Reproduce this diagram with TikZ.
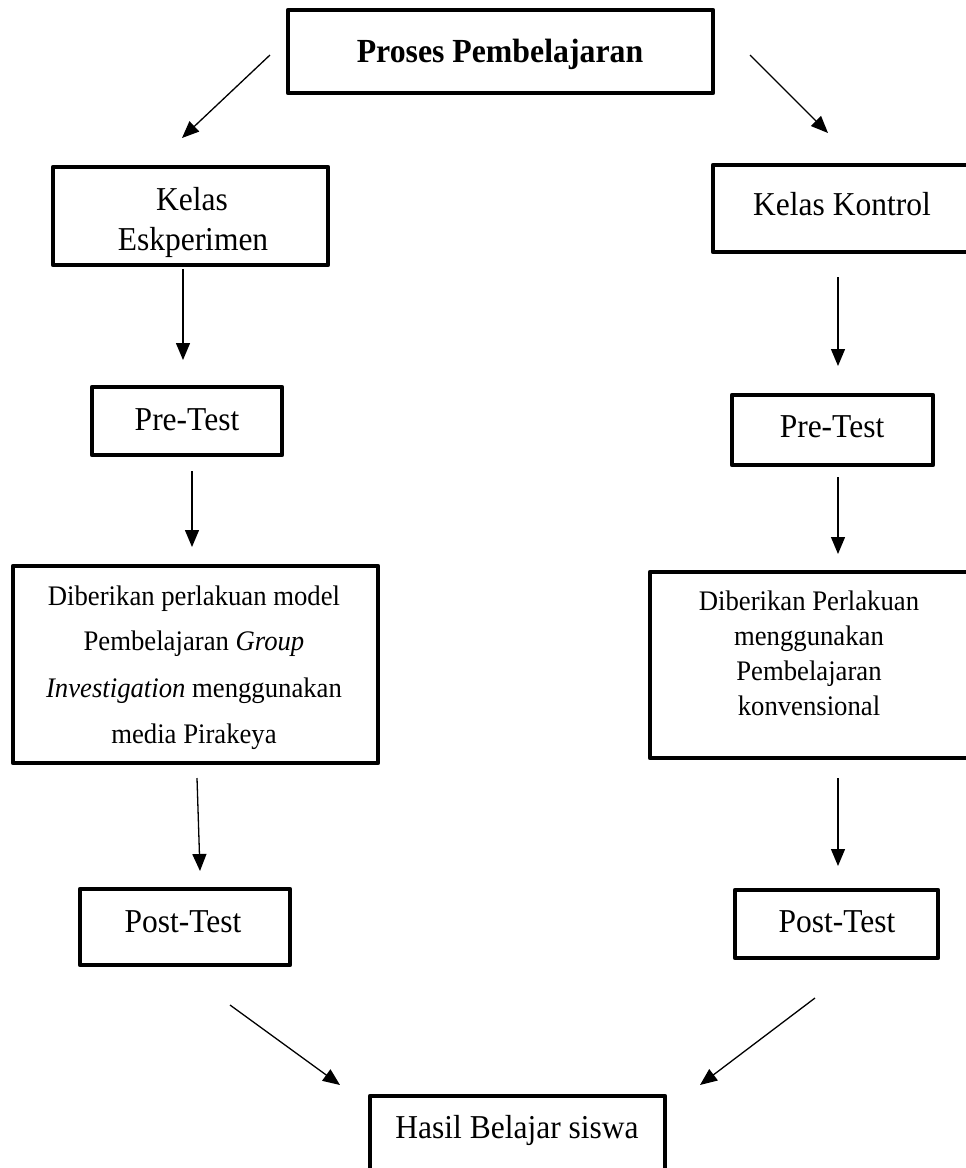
\documentclass[tikz,border=0pt]{standalone}
\usepackage{fontspec}
\setmainfont{Liberation Serif}
\usetikzlibrary{arrows.meta,calc}
\newcommand{\vst}[1]{\scalebox{1}[1.06]{#1}}
\begin{document}
\begin{tikzpicture}[x=1pt,y=-1pt,
  box/.style={draw=black,line width=4.2pt,line join=round,rectangle,inner sep=0pt,outer sep=0pt},
  arr/.style={draw=black,line width=1.3pt,-{Triangle[width=14pt,length=17pt]}},
  txt/.style={inner sep=0pt,anchor=base,font=\fontsize{31.5}{36}\selectfont},
  stxt/.style={inner sep=0pt,anchor=base,font=\fontsize{26.7}{30}\selectfont}]
\useasboundingbox (0,0) rectangle (966,1168);
% boxes
\node[box,minimum width=425pt,minimum height=83pt] (top) at (500.5,51.5) {};
\node[box,minimum width=275pt,minimum height=98pt] (ke) at (190.5,216) {};
\node[box,minimum width=262pt,minimum height=87pt] (kk) at (844,208.5) {};
\node[box,minimum width=190pt,minimum height=68pt] (prel) at (187,421) {};
\node[box,minimum width=201pt,minimum height=70pt] (prer) at (832.5,430) {};
\node[box,minimum width=365pt,minimum height=197pt] (dl) at (195.5,664.5) {};
\node[box,minimum width=325pt,minimum height=186pt] (dr) at (812.5,665) {};
\node[box,minimum width=210pt,minimum height=76pt] (postl) at (185,927) {};
\node[box,minimum width=203pt,minimum height=68pt] (postr) at (836.5,924) {};
\node[box,minimum width=295pt,minimum height=90pt] (hasil) at (517.5,1141) {};
% texts
\node[txt,font=\fontsize{31.8}{36}\selectfont\bfseries] (ttop) at (500,62) {\vst{Proses Pembelajaran}};
\node[txt] (tke1) at (192,210) {\vst{Kelas}};
\node[txt] (tke2) at (193,250) {\vst{Eskperimen}};
\node[txt] (tkk) at (842,215) {\vst{Kelas Kontrol}};
\node[txt] (tprel) at (187,430) {\vst{Pre-Test}};
\node[txt] (tprer) at (832,437) {\vst{Pre-Test}};
\node[stxt] (tdl1) at (194,605) {\vst{Diberikan perlakuan model}};
\node[stxt] (tdl2) at (194,650) {\vst{Pembelajaran \textit{Group}}};
\node[stxt] (tdl3) at (194,697) {\vst{\textit{Investigation} menggunakan}};
\node[stxt] (tdl4) at (194,743) {\vst{media Pirakeya}};
\node[stxt] (tdr1) at (809,610) {\vst{Diberikan Perlakuan}};
\node[stxt] (tdr2) at (809,645) {\vst{menggunakan}};
\node[stxt] (tdr3) at (809,680) {\vst{Pembelajaran}};
\node[stxt] (tdr4) at (809,715) {\vst{konvensional}};
\node[txt] (tpostl) at (183,932) {\vst{Post-Test}};
\node[txt] (tpostr) at (837,932) {\vst{Post-Test}};
\node[txt] (thasil) at (517,1138) {\vst{Hasil Belajar siswa}};
% arrows
\draw[arr] ($(top.west)+(-18,3.5)$) -- ($(ke.north)+(-8.5,-29)$);
\draw[arr] ($(top.east)+(37,3.5)$) -- ($(kk.north west)+(115,-32)$);
\draw[arr] ($(ke.south)+(-7.5,4)$) -- ($(prel.north)+(-4,-27)$);
\draw[arr] ($(prel.south)+(5,16)$) -- ($(dl.north)+(-3.5,-19)$);
\draw[arr] ($(dl.south)+(1.5,15)$) -- ($(postl.north)+(15,-18)$);
\draw[arr] ($(kk.south)+(-6,25)$) -- ($(prer.north)+(5.5,-29)$);
\draw[arr] ($(prer.south)+(5.5,12)$) -- ($(dr.north)+(25.5,-18)$);
\draw[arr] ($(dr.south)+(25.5,20)$) -- ($(postr.north)+(1.5,-24)$);
\draw[arr] ($(postl.south)+(45,40)$) -- ($(hasil.north west)+(-30,-11)$);
\draw[arr] ($(postr.south)+(-21.5,40)$) -- ($(hasil.north east)+(35,-11)$);
\end{tikzpicture}
\end{document}
